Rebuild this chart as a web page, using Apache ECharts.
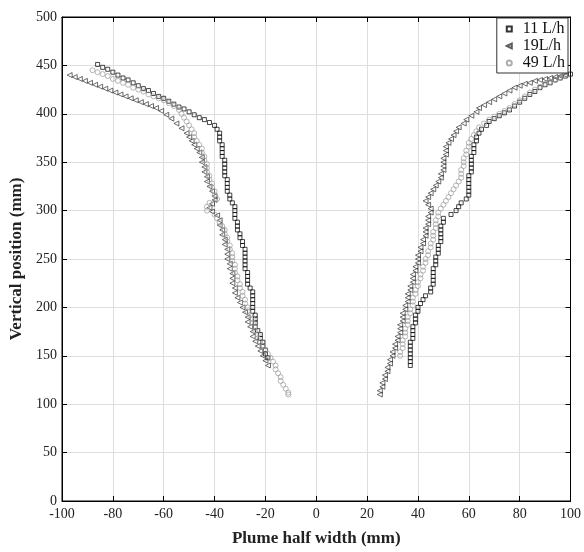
<!DOCTYPE html>
<html>
<head>
<meta charset="utf-8">
<script src="https://cdn.jsdelivr.net/npm/echarts@6/dist/echarts.min.js"></script>
<style>html,body{margin:0;padding:0;background:#fff;}#c{width:584px;height:552px;}</style>
</head>
<body>
<div id="c"></div>
<script>
const seriesNames = ['11 L/h', '19L/h', '49 L/h'];
const xTicks = [-100, 100, 20];
const yTicks = [0, 500, 50];

const left11 = [[-86,451],[-84,448],[-82,446],[-80,443],[-78,440],[-76,437],[-74,435],[-72,432],[-70,429],[-68,426],[-66,424],[-64,421],[-62,418],[-60,416],[-58,413],[-56,410],[-54,407],[-52,405],[-50,402],[-48,399],[-46,396],[-44,394],[-42,391],[-40,388],
[-39,384],[-38,380],[-38,376],[-38,372],[-37,368],[-37,364],[-37,360],[-37,356],[-36,352],[-36,348],[-36,344],[-36,340],[-36,336],[-35,332],[-35,328],[-35,324],[-35,320],[-34,316],[-34,312],[-33,308],[-32,304],[-32,300],[-32,296],[-32,292],[-31,288],[-31,284],[-31,280],[-30,276],[-30,272],[-29,268],[-29,264],[-28,260],[-28,256],[-28,252],[-28,248],[-28,244],[-28,240],[-27,236],[-27,232],[-27,228],[-27,224],[-26,220],[-25,216],[-25,212],[-25,208],[-25,204],[-25,200],[-25,196],[-24,192],[-24,188],[-24,184],[-24,180],[-23,176],[-22,172],[-22,168],[-21,164],[-21,160],[-20,156],[-20,152],[-19,148]];

const left19 = [[-97,440],[-95,438],[-93,436],[-91,434],[-89,432],[-87,430],[-85,428],[-83,426],[-81,424],[-79,422],[-77,420],[-75,418],[-73,416],[-71,414],[-69,412],[-67,410],[-65,408],[-63,406],[-61,403],[-59,399],[-57,395],[-55,390],[-53,385],[-51,380],[-50,376],[-49,372],[-48,368],[-47,364],[-46,360],[-45,355],[-45,350],[-44,345],[-44,340],[-43,335],[-43,330],[-42,325],[-41,320],[-40,315],[-40,311],[-41,307],[-42,303],[-41,299],[-39,295],[-38,290],[-38,285],[-37,280],[-37,275],[-36,270],[-36,265],[-35,260],[-35,255],[-35,250],[-34,245],[-34,240],[-33,235],[-33,230],[-33,225],[-32,220],[-32,215],[-31,210],[-30,205],[-29,200],[-28,195],[-27,190],[-27,185],[-26,180],[-25,175],[-25,170],[-24,165],[-23,160],[-22,155],[-21,150],[-20,145],[-19,140]];

const left49 = [[-88,445],[-86,443],[-84,441],[-82,439],[-80,436],[-78,434],[-76,432],[-74,430],[-72,427],[-70,425],[-68,423],[-66,420],[-64,418],[-62,416],[-60,414],[-58,411],[-56,408],[-54,404],[-53,400],[-52,396],[-51,392],[-50,388],[-49,384],[-48,380],[-48,376],[-47,372],[-46,368],[-45,364],[-45,360],[-44,356],[-44,352],[-43,348],[-43,344],[-43,340],[-42,336],[-42,332],[-41,328],[-41,324],[-40,320],[-40,316],[-39,312],[-42,308],[-43,304],[-43,300],[-40,296],[-39,292],[-38,288],[-37,284],[-36,280],[-36,276],[-35,272],[-35,268],[-34,264],[-34,260],[-33,256],[-33,252],[-33,248],[-32,244],[-32,240],[-32,236],[-31,232],[-31,228],[-30,224],[-30,220],[-29,216],[-29,212],[-28,208],[-28,204],[-27,200],[-27,196],[-26,192],[-25,188],[-25,184],[-24,180],[-24,176],[-23,172],[-23,168],[-22,164],[-21,160],[-20,156],[-19,152],[-18,148],[-17,144],[-16,140],[-16,136],[-15,132],[-14,128],[-14,124],[-13,120],[-12,116],[-11,112],[-11,110]];

const right11 = [[37,140],[37,144],[37,148],[37,152],[37,156],[37,160],[37,164],[38,168],[38,172],[38,176],[38,180],[39,184],[39,188],[39,192],[40,196],[40,200],[41,204],[42,208],[43,212],[45,216],[45,220],[46,224],[46,228],[46,232],[46,236],[46,240],[47,244],[47,248],[47,252],[48,256],[48,260],[48,264],[49,268],[49,272],[49,276],[49,280],[49,284],[50,288],[50,292],[53,296],[55,300],[56,304],[57,308],[59,312],[60,316],[60,320],[60,324],[60,328],[60,332],[60,336],[61,340],[61,344],[61,348],[61,352],[61,356],[62,360],[62,364],[62,368],[63,372],[63,376],[64,380],[65,384],[67,388],[68,392],[70,395],[72,398],[74,401],[76,404],[78,408],[80,412],[82,416],[84,420],[86,423],[88,427],[90,430],[92,432],[94,435],[96,437],[98,439],[100,441]];

const right19 = [[25,110],[25,114],[26,118],[26,122],[27,126],[27,130],[28,134],[28,138],[29,142],[29,146],[30,150],[30,154],[31,158],[31,162],[32,166],[32,170],[33,174],[33,178],[33,182],[34,186],[34,190],[34,194],[35,198],[35,202],[36,206],[36,210],[36,214],[37,218],[37,222],[38,226],[38,230],[38,234],[39,238],[39,242],[40,246],[40,250],[40,254],[41,258],[41,262],[42,266],[42,270],[43,274],[43,278],[43,282],[44,286],[44,290],[44,294],[45,298],[45,302],[44,306],[43,310],[44,314],[45,318],[46,322],[47,326],[48,330],[49,334],[49,338],[50,342],[50,346],[50,350],[50,354],[51,358],[51,362],[51,366],[52,370],[53,374],[54,378],[55,382],[56,386],[58,390],[59,394],[61,398],[63,402],[64,406],[66,409],[68,412],[70,415],[72,418],[74,421],[76,424],[78,427],[80,429],[82,431],[84,432],[86,434],[88,435],[90,436],[92,437],[94,438],[96,439],[98,440]];

const right49 = [[33,150],[33,154],[34,158],[34,162],[34,166],[35,170],[35,174],[35,178],[36,182],[36,186],[36,190],[37,194],[37,198],[38,202],[38,206],[38,210],[39,214],[39,218],[40,222],[40,226],[41,230],[41,234],[42,238],[42,242],[43,246],[43,250],[44,254],[44,258],[45,262],[45,266],[46,270],[46,274],[46,278],[47,282],[47,286],[47,290],[48,294],[48,298],[49,302],[50,306],[51,310],[52,314],[53,318],[54,322],[55,326],[56,330],[57,334],[57,338],[57,342],[58,346],[58,350],[58,354],[59,358],[59,362],[60,366],[60,370],[61,374],[62,378],[63,382],[64,386],[66,390],[68,394],[70,397],[72,400],[74,403],[76,406],[78,410],[80,414],[82,418],[84,422],[86,425],[88,428],[90,431],[92,433],[94,435],[96,437],[98,439]];

const FONT = '"Liberation Serif", "Times New Roman", serif';
const chart = echarts.init(document.getElementById('c'), null, {renderer: 'canvas'});
const TRI_LEFT = 'path://M0,5L10,0L10,10Z';

function mk(name, data, symbol, color, size) {
  return {
    name: name, type: 'scatter', data: data, symbol: symbol, symbolSize: size,
    itemStyle: {color: 'rgba(255,255,255,0)', borderColor: color, borderWidth: 0.9},
    emphasis: {disabled: true}, animation: false, xAxisIndex: 0, yAxisIndex: 0
  };
}

const baseAxis = {
  axisLine: {show: true, onZero: false, lineStyle: {color: '#000', width: 1}},
  axisTick: {show: true, inside: true, length: 5, lineStyle: {color: '#000', width: 1}},
  axisLabel: {fontFamily: FONT, fontSize: 14, color: '#222'},
  splitLine: {show: true, lineStyle: {color: '#dedede', width: 1}}
};

chart.setOption({
  animation: false,
  grid: {left: 62, right: 13, top: 17, bottom: 47, show: true, borderColor: '#000', borderWidth: 1, backgroundColor: '#fff'},
  xAxis: [
    Object.assign({}, baseAxis, {type: 'value', min: xTicks[0], max: xTicks[1], interval: xTicks[2], position: 'bottom',
      axisLabel: {fontFamily: FONT, fontSize: 14, color: '#222', margin: 6},
      name: 'Plume half width (mm)', nameLocation: 'middle', nameGap: 29,
      nameTextStyle: {fontFamily: FONT, fontSize: 17, fontWeight: 'bold', color: '#222'}}),
    Object.assign({}, baseAxis, {type: 'value', min: xTicks[0], max: xTicks[1], interval: xTicks[2], position: 'top',
      axisLabel: {show: false}, splitLine: {show: false}})
  ],
  yAxis: [
    Object.assign({}, baseAxis, {type: 'value', min: yTicks[0], max: yTicks[1], interval: yTicks[2], position: 'left',
      axisLabel: {fontFamily: FONT, fontSize: 14, color: '#222', margin: 5},
      name: 'Vertical position (mm)', nameLocation: 'middle', nameGap: 35,
      nameTextStyle: {fontFamily: FONT, fontSize: 17, fontWeight: 'bold', color: '#222'}}),
    Object.assign({}, baseAxis, {type: 'value', min: yTicks[0], max: yTicks[1], interval: yTicks[2], position: 'right',
      axisLabel: {show: false}, splitLine: {show: false}})
  ],
  legend: {
    show: true, orient: 'vertical', right: 16, top: 18,
    data: [
      {name: seriesNames[0], icon: 'rect'},
      {name: seriesNames[1], icon: TRI_LEFT},
      {name: seriesNames[2], icon: 'circle'}
    ],
    backgroundColor: '#fff', borderColor: '#333', borderWidth: 1, borderRadius: 0,
    padding: [3, 3, 2, 9], itemGap: 1, itemWidth: 5, itemHeight: 5,
    textStyle: {fontFamily: FONT, fontSize: 16, color: '#111', lineHeight: 15, padding: [0, 0, 0, 6]}
  },
  series: [
    mk(seriesNames[0], left11, 'rect', '#000', 4),
    mk(seriesNames[1], left19, TRI_LEFT, '#333', 5),
    mk(seriesNames[2], left49, 'circle', '#9a9a9a', 5),
    mk(seriesNames[0], right11, 'rect', '#000', 4),
    mk(seriesNames[1], right19, TRI_LEFT, '#333', 5),
    mk(seriesNames[2], right49, 'circle', '#9a9a9a', 5)
  ]
});
</script>
</body>
</html>
